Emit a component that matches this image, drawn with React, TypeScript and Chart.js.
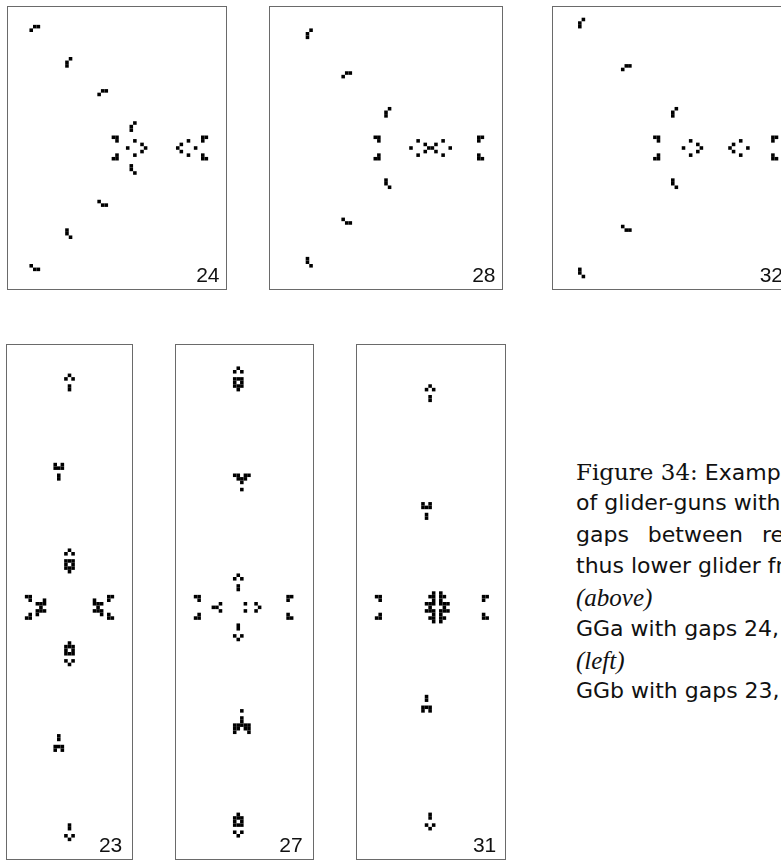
import React, { useEffect, useRef } from "react";
import { Chart, registerables } from "chart.js";

Chart.register(...registerables);

type Cell = [number, number];

// ---- data: live cells of each snapshot, as [column, row] in grid units ----
const PANEL_LABELS = ["24", "28", "32", "23", "27", "31"];
const PANEL_COLS = [61, 65, 66, 35, 38.5, 41.5];
const PANEL_ROWS = [79, 79, 79, 144, 144, 144];

const CELLS_24: Cell[] = [
  [7, 5], [8, 5], [6, 6],
  [17, 14], [16, 15], [16, 16],
  [26, 23], [27, 23], [25, 24],
  [35, 32], [34, 33], [34, 34],
  [29, 36], [30, 36], [30, 37],
  [30, 41], [29, 42], [30, 42],
  [35, 37], [33, 39], [35, 41],
  [37, 38], [38, 39], [37, 40],
  [48, 38], [47, 39], [48, 40],
  [50, 37], [52, 39], [50, 41],
  [54, 36], [55, 36], [54, 37],
  [54, 41], [54, 42], [55, 42],
  [34, 44], [34, 45], [35, 46],
  [25, 54], [26, 55], [27, 55],
  [16, 62], [16, 63], [17, 64],
  [6, 72], [7, 73], [8, 73],
];

const CELLS_28: Cell[] = [
  [11, 6], [10, 7], [10, 8],
  [21, 18], [22, 18], [20, 19],
  [33, 28], [32, 29], [32, 30],
  [29, 36], [30, 36], [30, 37],
  [30, 41], [29, 42], [30, 42],
  [41, 37], [39, 39], [41, 41],
  [43, 38], [46, 38], [44, 39], [45, 39], [43, 40], [46, 40],
  [48, 37], [50, 39], [48, 41],
  [58, 36], [59, 36], [58, 37],
  [58, 41], [58, 42], [59, 42],
  [32, 48], [32, 49], [33, 50],
  [20, 59], [21, 60], [22, 60],
  [10, 70], [10, 71], [11, 72],
];

const CELLS_32: Cell[] = [
  [8, 3], [7, 4], [7, 5],
  [20, 16], [21, 16], [19, 17],
  [34, 28], [33, 29], [33, 30],
  [28, 36], [29, 36], [29, 37],
  [29, 41], [28, 42], [29, 42],
  [38, 37], [36, 39], [38, 41],
  [40, 38], [41, 39], [40, 40],
  [50, 38], [49, 39], [50, 40],
  [52, 37], [54, 39], [52, 41],
  [61, 36], [62, 36], [61, 37],
  [61, 41], [61, 42], [62, 42],
  [33, 48], [33, 49], [34, 50],
  [19, 61], [20, 62], [21, 62],
  [7, 73], [7, 74], [8, 75],
];

const CELLS_23: Cell[] = [
  [17, 8], [16, 9], [18, 9], [17, 11], [17, 12],
  [13, 33], [15, 33], [13, 34], [14, 34], [15, 34], [14, 36], [14, 37],
  [17, 57], [16, 58], [18, 58], [16, 60], [17, 60], [18, 60], [16, 61], [18, 61], [16, 62], [17, 62], [18, 62], [17, 63],
  [5, 70], [6, 70], [6, 71], [6, 75], [5, 76], [6, 76],
  [10, 71], [8, 72], [9, 72], [10, 72], [9, 73], [8, 74], [9, 74], [10, 74], [8, 75],
  [28, 70], [29, 70], [28, 71], [28, 75], [28, 76], [29, 76],
  [24, 71], [24, 72], [25, 72], [26, 72], [25, 73], [24, 74], [25, 74], [26, 74], [26, 75],
  [17, 83], [16, 84], [17, 84], [18, 84], [16, 85], [18, 85], [16, 86], [17, 86], [18, 86], [16, 88], [18, 88], [17, 89],
  [14, 109], [14, 110], [13, 112], [14, 112], [15, 112], [13, 113], [15, 113],
  [17, 134], [17, 135], [16, 137], [18, 137], [17, 138],
];

const CELLS_27: Cell[] = [
  [17, 6], [16, 7], [18, 7], [16, 9], [17, 9], [18, 9], [16, 10], [18, 10], [16, 11], [17, 11], [18, 11], [17, 12],
  [16, 36], [17, 36], [19, 36], [20, 36], [17, 37], [18, 37], [19, 37], [18, 38], [18, 40],
  [17, 64], [16, 65], [18, 65], [17, 67], [17, 68],
  [5, 70], [6, 70], [6, 71], [6, 75], [5, 76], [6, 76],
  [12, 72], [10, 73], [11, 73], [12, 74],
  [19, 72], [19, 74],
  [22, 72], [23, 73], [22, 74],
  [31, 70], [32, 70], [31, 71], [31, 75], [31, 76], [32, 76],
  [17, 78], [17, 79], [16, 81], [18, 81], [17, 82],
  [18, 102], [18, 104], [18, 105], [16, 106], [17, 106], [18, 106], [19, 106], [20, 106], [16, 107], [17, 107], [19, 107], [20, 107], [16, 108], [20, 108],
  [17, 131], [16, 132], [17, 132], [18, 132], [16, 133], [18, 133], [16, 134], [17, 134], [18, 134], [16, 136], [18, 136], [17, 137],
];

const CELLS_31: Cell[] = [
  [20, 11], [19, 12], [21, 12], [20, 14], [20, 15],
  [18, 44], [20, 44], [18, 45], [19, 45], [20, 45], [19, 47], [19, 48],
  [21, 69], [23, 69],
  [20, 70], [21, 70], [23, 70], [24, 70],
  [21, 71], [23, 71],
  [19, 72], [20, 72], [21, 72], [23, 72], [24, 72], [25, 72],
  [20, 73], [24, 73],
  [19, 74], [20, 74], [21, 74], [23, 74], [24, 74], [25, 74],
  [21, 75], [23, 75],
  [20, 76], [21, 76], [23, 76], [24, 76],
  [21, 77], [23, 77],
  [5, 70], [6, 70], [6, 71], [6, 75], [5, 76], [6, 76],
  [35, 70], [36, 70], [35, 71], [35, 75], [35, 76], [36, 76],
  [19, 98], [19, 99], [18, 101], [19, 101], [20, 101], [18, 102], [20, 102],
  [20, 131], [20, 132], [19, 134], [21, 134], [20, 135],
];

const PANEL_CELLS: Cell[][] = [CELLS_24, CELLS_28, CELLS_32, CELLS_23, CELLS_27, CELLS_31];

const CAPTION_LINES = [
  "Examples",
  "of glider-guns with",
  "gaps between re",
  "thus lower glider frequency",
  "(above)",
  "GGa with gaps 24,",
  "(left)",
  "GGb with gaps 23,",
];
const CAPTION_PREFIX = "Figure 34:";

// ---- layout (pixels) ----
const CELL_PX = 3.57;
const PANEL_POS = [
  { left: 7.5, top: 7 },
  { left: 269.5, top: 7 },
  { left: 553, top: 7 },
  { left: 7.3, top: 345 },
  { left: 175.7, top: 345 },
  { left: 357.3, top: 345 },
];
const LABEL_RIGHT = [6, 6, 6, 10, 10, 9];
const CAPTION_LEFT = 576;
const CAPTION_TOP = 459;
const CAPTION_STEP = 31.3;

function Panel(props: { cells: Cell[]; cols: number; rows: number; label: string; left: number; top: number; labelRight: number }) {
  const { cells, cols, rows, label, left, top, labelRight } = props;
  const ref = useRef<HTMLCanvasElement | null>(null);
  const w = Math.round(cols * CELL_PX);
  const h = Math.round(rows * CELL_PX);

  useEffect(() => {
    if (!ref.current) return;
    const radius = (ctx: any) => {
      const s = ctx.chart && ctx.chart.scales && ctx.chart.scales.x;
      const size = s ? Math.abs(s.getPixelForValue(1) - s.getPixelForValue(0)) : CELL_PX;
      return size / (2 * Math.SQRT1_2);
    };
    const chart = new Chart(ref.current, {
      type: "scatter",
      data: {
        datasets: [
          {
            data: cells.map(([c, r]) => ({ x: c + 0.5, y: r + 0.5 })),
            pointStyle: "rect",
            backgroundColor: "#000",
            borderColor: "#000",
            borderWidth: 0,
            pointRadius: radius,
            pointHoverRadius: radius,
          } as any,
        ],
      },
      options: {
        animation: false,
        responsive: false,
        maintainAspectRatio: false,
        events: [],
        layout: { padding: 0 },
        scales: {
          x: { type: "linear", min: 0, max: cols, display: false },
          y: { type: "linear", min: 0, max: rows, reverse: true, display: false },
        },
        plugins: { legend: { display: false }, tooltip: { enabled: false } },
      },
    });
    return () => chart.destroy();
  }, []);

  return (
    <div
      style={{
        position: "absolute",
        left: left - 1,
        top: top - 1,
        width: w,
        height: h,
        border: "1px solid #6a6a6a",
        background: "#fff",
      }}
    >
      <canvas ref={ref} width={w} height={h} style={{ display: "block", width: w, height: h }} />
      <div
        style={{
          position: "absolute",
          right: labelRight,
          bottom: 4,
          font: '21px "Liberation Sans", Arial, sans-serif',
          lineHeight: "21px",
          color: "#111",
        }}
      >
        {label}
      </div>
    </div>
  );
}

export default function App() {
  const sans = '"DejaVu Sans", "Liberation Sans", sans-serif';
  const serif = '"DejaVu Serif", "Liberation Serif", serif';
  const lineStyle = (i: number): React.CSSProperties => ({
    position: "absolute",
    left: CAPTION_LEFT,
    top: CAPTION_TOP + i * CAPTION_STEP,
    whiteSpace: "nowrap",
    lineHeight: "31px",
    color: "#111",
    font: `22px ${sans}`,
  });
  const italic = (i: number): React.CSSProperties => ({
    ...lineStyle(i),
    font: 'italic 25px "Liberation Serif", serif',
  });
  return (
    <div
      style={{
        position: "fixed",
        left: 0,
        top: 0,
        width: 781,
        height: 863,
        overflow: "hidden",
        background: "#fff",
      }}
    >
      {PANEL_CELLS.map((cells, i) => (
        <Panel
          key={i}
          cells={cells}
          cols={PANEL_COLS[i]}
          rows={PANEL_ROWS[i]}
          label={PANEL_LABELS[i]}
          left={PANEL_POS[i].left}
          top={PANEL_POS[i].top}
          labelRight={LABEL_RIGHT[i]}
        />
      ))}
      <div style={lineStyle(0)}>
        <span style={{ font: `23px ${serif}` }}>{CAPTION_PREFIX}</span> {CAPTION_LINES[0]}
      </div>
      <div style={lineStyle(1)}>{CAPTION_LINES[1]}</div>
      <div style={{ ...lineStyle(2), wordSpacing: "12px" }}>{CAPTION_LINES[2]}</div>
      <div style={lineStyle(3)}>{CAPTION_LINES[3]}</div>
      <div style={italic(4)}>{CAPTION_LINES[4]}</div>
      <div style={lineStyle(5)}>{CAPTION_LINES[5]}</div>
      <div style={italic(6)}>{CAPTION_LINES[6]}</div>
      <div style={lineStyle(7)}>{CAPTION_LINES[7]}</div>
    </div>
  );
}
